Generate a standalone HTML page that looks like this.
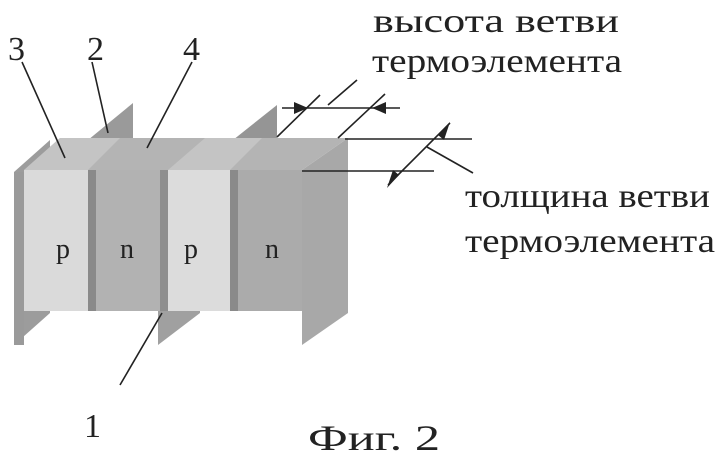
<!DOCTYPE html>
<html><head><meta charset="utf-8"><style>
body{margin:0;background:#fff}
svg{display:block}
text{font-family:"Liberation Serif",serif;fill:#222}
</style></head><body>
<svg width="722" height="460" viewBox="0 0 722 460">
<polygon points="88,140 133,103 133,280 88,311" fill="#9a9a9a"/>
<polygon points="233,140 277,105 277,280 233,311" fill="#959595"/>
<polygon points="14,172 50,140 50,313 14,345" fill="#9c9c9c"/>
<polygon points="158,170 200,138 200,313 158,345" fill="#a0a0a0"/>
<polygon points="302,170 348,138 348,313 302,345" fill="#a8a8a8"/>
<polygon points="24,170 60,138 348,138 302,170" fill="#b4b4b4"/>
<polygon points="24,170 60,138 120,138 88,170" fill="#c4c4c4"/>
<polygon points="168,170 205,138 262,138 230,170" fill="#c4c4c4"/>
<rect x="24" y="170" width="64" height="141" fill="#dadada"/>
<rect x="88" y="170" width="8" height="141" fill="#8a8a8a"/>
<rect x="96" y="170" width="64" height="141" fill="#b2b2b2"/>
<rect x="160" y="170" width="8" height="141" fill="#8e8e8e"/>
<rect x="168" y="170" width="62" height="141" fill="#dcdcdc"/>
<rect x="230" y="170" width="8" height="141" fill="#8a8a8a"/>
<rect x="238" y="170" width="64" height="141" fill="#ababab"/>
<rect x="14" y="172" width="10" height="173" fill="#9a9a9a"/>
<text x="56" y="258" font-size="28">p</text>
<text x="120" y="258" font-size="28">n</text>
<text x="184" y="258" font-size="28">p</text>
<text x="265" y="258" font-size="28">n</text>
<g stroke="#222" stroke-width="1.6" fill="none">
<line x1="22" y1="62" x2="65" y2="158"/>
<line x1="92" y1="62" x2="108" y2="133"/>
<line x1="192" y1="62" x2="147" y2="148"/>
<line x1="162" y1="313" x2="120" y2="385"/>
<line x1="282" y1="108" x2="400" y2="108"/>
<line x1="277" y1="137" x2="320" y2="95"/>
<line x1="338" y1="138" x2="385" y2="94"/>
<line x1="328" y1="105" x2="357" y2="80"/>
<line x1="345" y1="139" x2="472" y2="139"/>
<line x1="302" y1="171" x2="434" y2="171"/>
<line x1="388" y1="185" x2="450" y2="123"/>
<line x1="427" y1="147" x2="473" y2="173"/>
</g>
<g fill="#222">
<polygon points="308,108 294,102 294,114"/>
<polygon points="372,108 386,102 386,114"/>
<polygon points="438,135 450,122 444,140"/>
<polygon points="399,175 387,188 393,170"/>
</g>
<text x="8" y="60" font-size="34">3</text>
<text x="87" y="60" font-size="34">2</text>
<text x="183" y="60" font-size="34">4</text>
<text x="84" y="437" font-size="34">1</text>
<text x="373" y="32" font-size="34" textLength="246" lengthAdjust="spacingAndGlyphs">высота ветви</text>
<text x="372" y="72" font-size="34" textLength="250" lengthAdjust="spacingAndGlyphs">термоэлемента</text>
<text x="465" y="207" font-size="34" textLength="245" lengthAdjust="spacingAndGlyphs">толщина ветви</text>
<text x="465" y="252" font-size="34" textLength="250" lengthAdjust="spacingAndGlyphs">термоэлемента</text>
<text x="308" y="450" font-size="36" textLength="132" lengthAdjust="spacingAndGlyphs">Фиг. 2</text>
</svg>
</body></html>
